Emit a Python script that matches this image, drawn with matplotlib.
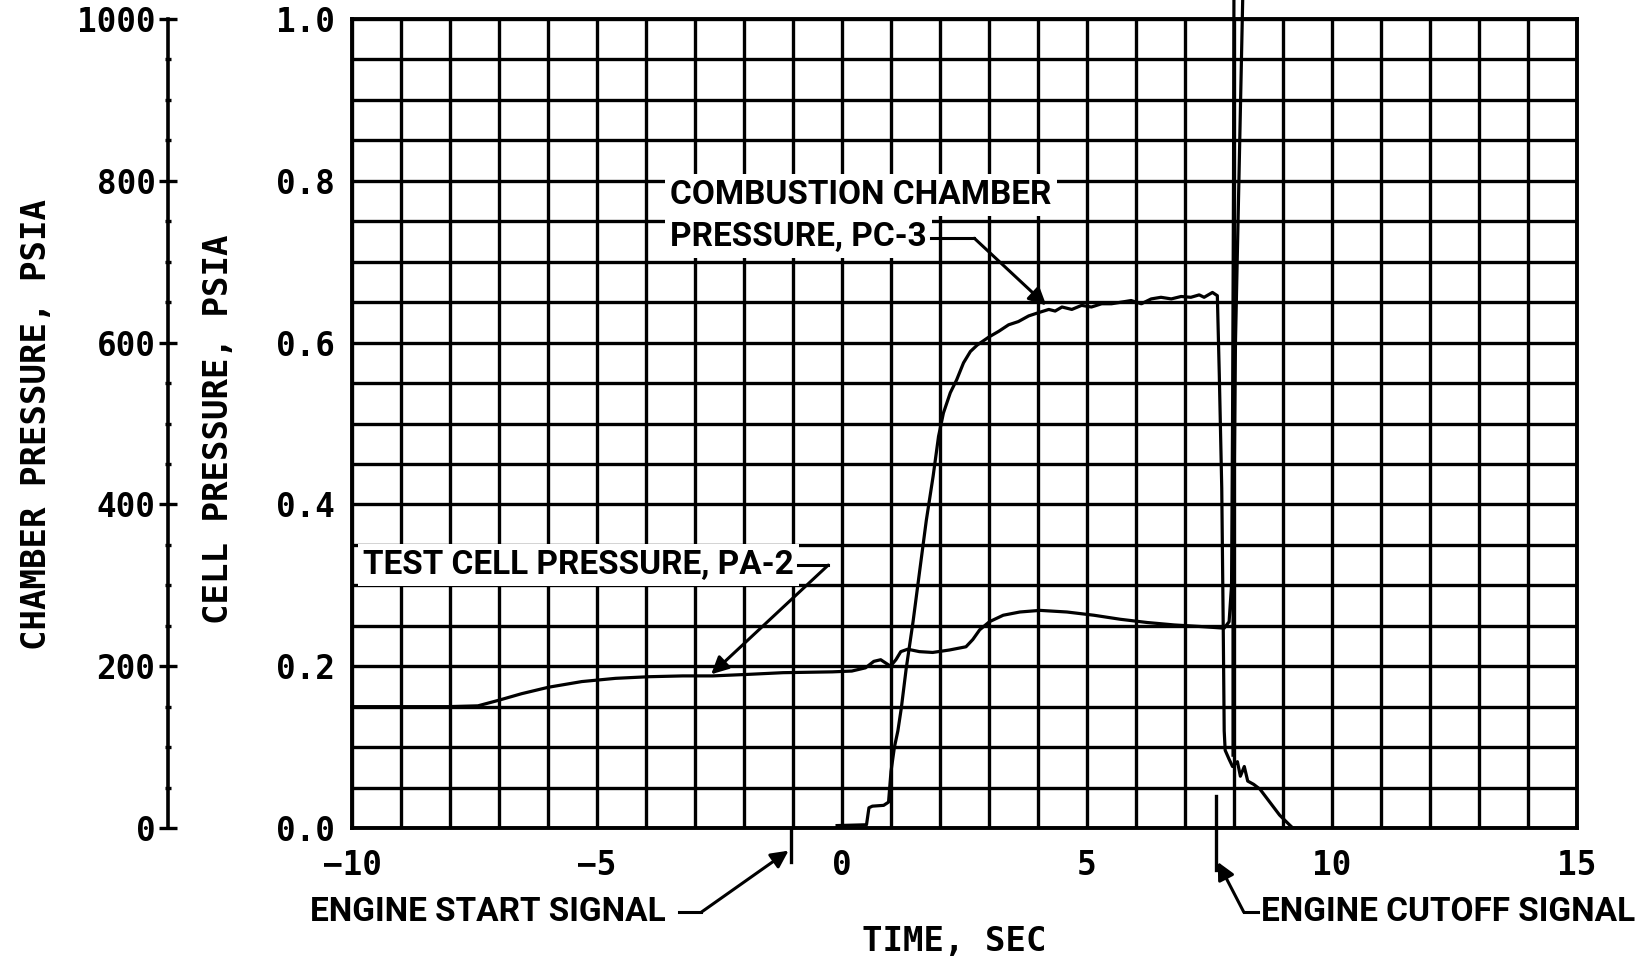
import matplotlib
matplotlib.use("Agg")
import matplotlib.pyplot as plt
from matplotlib.ticker import MultipleLocator, FixedLocator, FormatStrFormatter

# ---------------- data ----------------
# Test cell pressure PA-2 (psia, cell scale)
time_pa2 = [-10.0, -8.05, -7.43, -7.0, -6.54, -5.99, -5.31, -4.62, -3.94, -3.25,
            -2.64, -1.88, -1.2, -0.2, 0.2, 0.48, 0.65, 0.79, 0.89, 0.99,
            1.1, 1.2, 1.34, 1.58, 1.85, 2.19, 2.53, 2.67, 2.81, 3.01,
            3.29, 3.63, 4.04, 4.59, 5.14, 5.68, 6.23, 6.78, 7.33, 7.8,
            7.9, 7.95, 7.97, 7.99, 8.0, 8.19, 8.1, 8.03, 8.0, 7.98, 7.98]
cell_pa2 = [0.150, 0.150, 0.151, 0.158, 0.166, 0.174, 0.181, 0.185, 0.187, 0.188,
            0.188, 0.190, 0.192, 0.193, 0.194, 0.198, 0.206, 0.208, 0.204, 0.200,
            0.208, 0.218, 0.221, 0.218, 0.217, 0.220, 0.224, 0.233, 0.245, 0.255,
            0.263, 0.267, 0.269, 0.267, 0.263, 0.258, 0.254, 0.251, 0.249, 0.247,
            0.255, 0.30, 0.50, 0.80, 1.06, 1.06, 0.80, 0.60, 0.40, 0.25, 0.09]

# Combustion chamber pressure PC-3 (psia, chamber scale)
time_pc3 = [-0.1, 0.5, 0.55, 0.62, 0.85, 0.95, 1.0, 1.07, 1.14, 1.21,
            1.31, 1.45, 1.59, 1.72, 1.86, 1.97, 2.07, 2.21, 2.34, 2.48,
            2.62, 2.76, 3.0, 3.2, 3.4, 3.6, 3.81, 4.01, 4.22, 4.35,
            4.49, 4.69, 4.89, 5.09, 5.3, 5.5, 5.7, 5.9, 6.11, 6.31,
            6.51, 6.72, 6.92, 7.12, 7.29, 7.39, 7.56, 7.66, 7.7, 7.75,
            7.78, 7.8, 7.82, 7.9, 7.97, 8.07, 8.13, 8.21, 8.28, 8.4,
            8.53, 8.73, 8.93, 9.13, 9.2]
chamber_pc3 = [3, 4, 25, 27, 28, 32, 70, 100, 120, 148,
               197, 255, 320, 380, 435, 484, 513, 538, 554, 575,
               589, 597, 607, 614, 622, 626, 633, 637, 641, 639,
               644, 641, 646, 644, 648, 648, 650, 652, 648, 654,
               656, 654, 657, 656, 659, 656, 662, 658, 560, 420,
               250, 120, 96, 85, 76, 82, 64, 76, 58, 54,
               48, 32, 16, 4, 0]

x_ticks = [-10, -5, 0, 5, 10, 15]
cell_ticks = [0.0, 0.2, 0.4, 0.6, 0.8, 1.0]
chamber_ticks = [0, 200, 400, 600, 800, 1000]

engine_start_time = -1.05
engine_cutoff_time = 7.63

# ---------------- style ----------------
MONO = ["DejaVu Sans Mono"]
NARROW = ["Roboto", "DejaVu Sans"]
LW_GRID = 2.4
LW_LINE = 2.3

W, H = 1640, 966
L, R, T, B = 352, 1577, 19, 828

fig = plt.figure(figsize=(W / 100, H / 100), dpi=100)
fig.patch.set_facecolor("white")

ax = fig.add_axes([L / W, 1 - B / H, (R - L) / W, (B - T) / H])
ax.set_xlim(-10, 15)
ax.set_ylim(0, 1.0)
ax.xaxis.set_major_locator(FixedLocator(x_ticks))
ax.xaxis.set_minor_locator(MultipleLocator(1))
ax.yaxis.set_major_locator(FixedLocator(cell_ticks))
ax.yaxis.set_minor_locator(MultipleLocator(0.05))
ax.yaxis.set_major_formatter(FormatStrFormatter("%.1f"))
ax.grid(which="both", color="black", lw=LW_GRID)
ax.set_axisbelow(True)
for s in ax.spines.values():
    s.set_linewidth(2.8)
ax.tick_params(which="both", length=0)
ax.tick_params(axis="x", pad=15, labelsize=23.5)
ax.tick_params(axis="y", pad=12, labelsize=23.5)
for lab in ax.get_xticklabels() + ax.get_yticklabels():
    lab.set_fontfamily(MONO)
    lab.set_fontweight("bold")

# PA-2 on the cell-pressure scale
ax.plot(time_pa2, cell_pa2, color="black", lw=LW_LINE, clip_on=False, zorder=3,
        solid_joinstyle="round")

# PC-3 on the chamber-pressure scale (twin axis, same frame)
axp = ax.twinx()
axp.set_ylim(0, 1000)
axp.axis("off")
axp.plot(time_pc3, chamber_pc3, color="black", lw=LW_LINE, zorder=3,
         solid_joinstyle="round")

# Separate chamber pressure scale on the left
axc = fig.add_axes([168 / W, 1 - B / H, 0.0001, (B - T) / H])
axc.set_ylim(0, 1000)
for s in ["top", "right", "bottom"]:
    axc.spines[s].set_visible(False)
axc.spines["left"].set_linewidth(2.6)
axc.patch.set_visible(False)
axc.set_xticks([])
axc.yaxis.set_major_locator(FixedLocator(chamber_ticks))
axc.yaxis.set_minor_locator(MultipleLocator(50))
axc.tick_params(axis="y", which="major", direction="inout", length=13, width=2.4,
                pad=2.5, labelsize=23.5)
axc.tick_params(axis="y", which="minor", direction="inout", length=5, width=2.4)
for lab in axc.get_yticklabels():
    lab.set_fontfamily(MONO)
    lab.set_fontweight("bold")

# Axis titles
fig.text(37 / W, 1 - 424 / H, "CHAMBER PRESSURE, PSIA", rotation=90, ha="center",
         va="center", fontsize=24.5, family=MONO, weight="bold")
fig.text(219 / W, 1 - 429 / H, "CELL PRESSURE, PSIA", rotation=90, ha="center",
         va="center", fontsize=24.5, family=MONO, weight="bold")
fig.text(954 / W, 1 - 942 / H, "TIME, SEC", ha="center", va="center",
         fontsize=24.5, family=MONO, weight="bold")

# Annotations
box = dict(boxstyle="square,pad=0.15", fc="white", ec="none")
tfont = dict(fontsize=24, family=NARROW, weight="bold", zorder=4)
arrow = dict(arrowstyle="-|>", lw=2.2, color="black", mutation_scale=26,
             shrinkA=0, shrinkB=0)

t1 = ax.text(-3.5, 0.783, "COMBUSTION CHAMBER", ha="left", va="center", bbox=box, **tfont)
t2 = ax.text(-3.5, 0.731, "PRESSURE, PC-3", ha="left", va="center", bbox=box, **tfont)
t3 = ax.text(-9.77, 0.325, "TEST CELL PRESSURE, PA-2", ha="left", va="center",
             bbox=box, **tfont)
t4 = ax.text(-3.6, -0.104, "ENGINE START SIGNAL", ha="right", va="center",
             clip_on=False, **tfont)
t5 = ax.text(8.55, -0.104, "ENGINE CUTOFF SIGNAL", ha="left", va="center",
             clip_on=False, **tfont)

fig.canvas.draw()
inv = ax.transData.inverted()


def right_edge(txt):
    bb = txt.get_window_extent()
    return inv.transform((bb.x1, bb.y0))[0]


# PC-3 leader
x0 = right_edge(t2) + 0.08
ax.plot([x0, 2.7], [0.729, 0.729], color="black", lw=2.2, zorder=5)
ax.annotate("", xy=(4.17, 0.646), xytext=(2.7, 0.729), arrowprops=arrow, zorder=5)

# PA-2 leader
x0 = right_edge(t3) + 0.08
ax.plot([x0, -0.28], [0.325, 0.325], color="black", lw=2.2, zorder=5)
ax.annotate("", xy=(-2.67, 0.19), xytext=(-0.28, 0.325), arrowprops=arrow, zorder=5)

# Engine start signal
ax.plot([engine_start_time, engine_start_time], [0, -0.042], color="black",
        lw=2.4, clip_on=False)
ax.plot([-3.33, -2.87], [-0.104, -0.104], color="black", lw=2.2, clip_on=False)
ax.annotate("", xy=(engine_start_time - 0.04, -0.028), xytext=(-2.87, -0.104),
            arrowprops=arrow, annotation_clip=False)

# Engine cutoff signal
ax.plot([engine_cutoff_time, engine_cutoff_time], [0.04, -0.052], color="black",
        lw=2.4, clip_on=False)
ax.plot([8.2, 8.48], [-0.104, -0.104], color="black", lw=2.2, clip_on=False)
ax.annotate("", xy=(engine_cutoff_time + 0.04, -0.042), xytext=(8.2, -0.104),
            arrowprops=arrow, annotation_clip=False)

fig.savefig("out.png", dpi=100, facecolor="white")
